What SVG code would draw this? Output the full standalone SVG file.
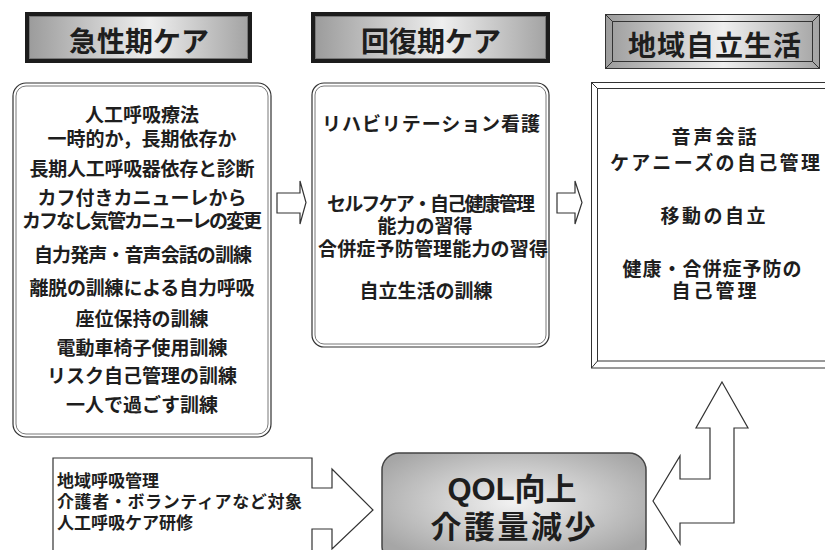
<svg xmlns="http://www.w3.org/2000/svg" width="825" height="550" viewBox="0 0 825 550">
<style>
text{font-family:"Liberation Sans","Noto Sans CJK JP","Noto Sans CJK SC",sans-serif;fill:#1e1e1e;}
.hd{font-size:28px;font-weight:bold;text-anchor:middle;}
.bt{font-size:19px;font-weight:bold;text-anchor:middle;}
.lt{font-size:17px;font-weight:bold;}
.q{font-size:31px;font-weight:bold;text-anchor:middle;}
.ol{fill:#fff;stroke:#333;stroke-width:1.2;}
.in{fill:none;stroke:#555;stroke-width:0.8;}
.bv{fill:none;stroke:#333;stroke-width:1;}
</style>
<defs>
<linearGradient id="hg" x1="0" y1="0" x2="1" y2="0">
<stop offset="0" stop-color="#9c9c9c"/>
<stop offset="0.55" stop-color="#efefef"/>
<stop offset="1" stop-color="#a4a4a4"/>
</linearGradient>
<radialGradient id="qg" cx="0.5" cy="0.45" r="0.6">
<stop offset="0" stop-color="#f2f2f2"/>
<stop offset="1" stop-color="#a6a6a6"/>
</radialGradient>
</defs>

<g id="header-acute">
<rect x="25" y="12" width="227" height="51" fill="#1c1c1c"/>
<rect x="29.5" y="16.5" width="218" height="42" fill="url(#hg)" stroke="#777" stroke-width="1"/>
<text class="hd" x="139" y="52">急性期ケア</text>
</g>
<g id="header-recovery">
<rect x="311" y="12" width="239" height="51" fill="#1c1c1c"/>
<rect x="315.5" y="16.5" width="230" height="42" fill="url(#hg)" stroke="#777" stroke-width="1"/>
<text class="hd" x="431" y="52">回復期ケア</text>
</g>
<g id="header-community">
<rect x="605.5" y="14.5" width="214" height="54" fill="url(#hg)" stroke="#333" stroke-width="1"/>
<rect x="612.5" y="21.5" width="200" height="40" fill="none" stroke="#333" stroke-width="1"/>
<path class="bv" d="M605.5,14.5L612.5,21.5M819.5,14.5L812.5,21.5M605.5,68.5L612.5,61.5M819.5,68.5L812.5,61.5"/>
<text class="hd" x="715" y="56" letter-spacing="1">地域自立生活</text>
</g>

<g id="box-acute">
<rect x="13" y="83" width="258" height="354" rx="13" class="ol" stroke-width="1.6"/>
<rect x="16" y="86" width="252" height="348" rx="10" class="in"/>
<text class="bt" x="142" y="122">人工呼吸療法</text>
<text class="bt" x="142" y="146">一時的か，長期依存か</text>
<text class="bt" x="142" y="176" textLength="225">長期人工呼吸器依存と診断</text>
<text class="bt" x="142" y="205">カフ付きカニューレから</text>
<text class="bt" x="142" y="228" textLength="240">カフなし気管カニューレの変更</text>
<text class="bt" x="143" y="262" textLength="218">自力発声・音声会話の訓練</text>
<text class="bt" x="142" y="295" textLength="225">離脱の訓練による自力呼吸</text>
<text class="bt" x="142" y="326">座位保持の訓練</text>
<text class="bt" x="142" y="355">電動車椅子使用訓練</text>
<text class="bt" x="142" y="383">リスク自己管理の訓練</text>
<text class="bt" x="142" y="412">一人で過ごす訓練</text>
</g>

<g id="box-recovery">
<rect x="312" y="83" width="237" height="264" rx="12" class="ol" stroke-width="1.6"/>
<rect x="315" y="86" width="231" height="258" rx="9" class="in"/>
<text class="bt" x="431" y="131" font-size="20" textLength="218">リハビリテーション看護</text>
<text class="bt" x="431" y="211" textLength="208">セルフケア・自己健康管理</text>
<text class="bt" x="425" y="233">能力の習得</text>
<text class="bt" x="433" y="256" textLength="230">合併症予防管理能力の習得</text>
<text class="bt" x="426" y="298">自立生活の訓練</text>
</g>

<g id="box-community">
<rect x="591.5" y="82.5" width="245" height="285.5" fill="#fff" stroke="#333" stroke-width="1"/>
<rect x="597.5" y="88.5" width="240" height="272.5" fill="none" stroke="#333" stroke-width="1"/>
<path class="bv" d="M591.5,82.5L597.5,88.5M591.5,368L597.5,361"/>
<text class="bt" x="714" y="144" font-size="20" textLength="85">音声会話</text>
<text class="bt" x="715" y="170" font-size="20" textLength="210">ケアニーズの自己管理</text>
<text class="bt" x="713" y="223" font-size="20" textLength="105">移動の自立</text>
<text class="bt" x="712" y="276" font-size="20" textLength="179">健康・合併症予防の</text>
<text class="bt" x="714" y="298" font-size="20" textLength="85">自己管理</text>
</g>

<g id="box-training">
<path class="ol" d="M53,458H312V488H332V469L373,510L332,549V529H312V560H53Z"/>
<text class="lt" x="57" y="487">地域呼吸管理</text>
<text class="lt" x="57" y="508" textLength="245">介護者・ボランティアなど対象</text>
<text class="lt" x="57" y="529">人工呼吸ケア研修</text>
</g>

<g id="box-qol">
<rect x="382" y="453" width="264" height="110" rx="17" fill="url(#qg)" stroke="#444" stroke-width="1.5"/>
<text class="q" x="512" y="500">QOL向上</text>
<text class="q" x="513" y="538" textLength="165">介護量減少</text>
</g>

<g id="connectors">
<path class="ol" d="M277,193H300V181L306,202.5L300,224V213H277Z"/>
<path class="ol" d="M557,193H575V181L582,202.5L575,224V213H557Z"/>
<path class="ol" d="M722,382L748,428H734V523H680V544L653,501L680,456V479H710V428H696Z"/>
</g>
</svg>
